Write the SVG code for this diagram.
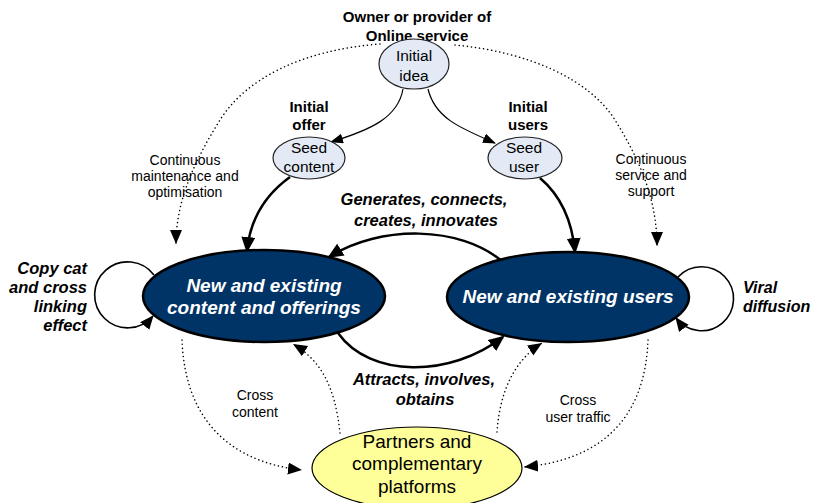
<svg xmlns="http://www.w3.org/2000/svg" width="813" height="503" viewBox="0 0 813 503">
<defs>
<style>
text{font-family:"Liberation Sans",Arial,sans-serif;fill:#000}
.bi{font-weight:bold;font-style:italic;font-size:16.5px}
.vd{font-weight:bold;font-style:italic;font-size:16px}
.b{font-weight:bold;font-size:15px}
.r{font-size:14px}
.sm{font-size:15.5px}
.big{font-weight:bold;font-style:italic;font-size:19px;fill:#fff}
.thick{fill:none;stroke:#000;stroke-width:2.5}
.thin{fill:none;stroke:#000;stroke-width:1.2}
.loop{fill:none;stroke:#000;stroke-width:1.6}
.dot{fill:none;stroke:#000;stroke-width:1.5;stroke-dasharray:0.1 4;stroke-linecap:round}
.seed{fill:#e3eaf6;stroke:#222;stroke-width:1.2}
.main{fill:#003366;stroke:#000;stroke-width:2.5}
</style>
<marker id="aT" markerUnits="userSpaceOnUse" markerWidth="18" markerHeight="16" refX="14" refY="7" orient="auto"><path d="M0,0 L16,7 L0,14 z" fill="#000"/></marker>
<marker id="aS" markerUnits="userSpaceOnUse" markerWidth="16" markerHeight="12" refX="12" refY="5" orient="auto"><path d="M0,0 L13,5 L0,10 z" fill="#000"/></marker>
<marker id="aD" markerUnits="userSpaceOnUse" markerWidth="16" markerHeight="14" refX="14" refY="6" orient="auto"><path d="M0,0 L14,6 L0,12 z" fill="#000"/></marker>
<marker id="aL" markerUnits="userSpaceOnUse" markerWidth="16" markerHeight="14" refX="13" refY="6" orient="auto"><path d="M0,0 L14,6 L0,12 z" fill="#000"/></marker>
</defs>
<rect width="813" height="503" fill="#fff"/>

<g id="connectors">
<path class="dot" d="M380,44 C300,50 245,80 220,120 C195,160 176,200 176,244" marker-end="url(#aD)"/>
<path class="dot" d="M455,45 C530,52 590,80 615,120 C640,160 657,200 657,246" marker-end="url(#aD)"/>
<path class="dot" d="M182,340 C185,420 230,462 302,470" marker-end="url(#aD)"/>
<path class="dot" d="M340,433 C335,385 320,360 293,344" marker-end="url(#aD)"/>
<path class="dot" d="M497,432 C500,390 515,360 542,343" marker-end="url(#aD)"/>
<path class="dot" d="M648,340 C645,420 600,460 524,467" marker-end="url(#aD)"/>
<path class="thin" d="M403,89 C398,118 370,130 331,142" marker-end="url(#aS)"/>
<path class="thin" d="M428,89 C435,118 460,128 495,143" marker-end="url(#aS)"/>
<path class="thick" d="M290,177 C265,195 250,220 247,251" marker-end="url(#aT)"/>
<path class="thick" d="M540,178 C560,195 572,220 575,252" marker-end="url(#aT)"/>
<path class="thick" d="M503,262 C460,225 380,225 329,257" marker-end="url(#aT)"/>
<path class="thick" d="M338,333 C370,378 450,378 503,337" marker-end="url(#aT)"/>
<path class="loop" d="M154,275 A33,33 0 1 0 153,316" marker-end="url(#aL)"/>
<path class="loop" d="M678,277 A32,32 0 1 1 676,318" marker-end="url(#aL)"/>
</g>

<g id="owner">
<text class="b" x="417" y="22" text-anchor="middle">Owner or provider of</text>
<text class="b" x="417" y="41" text-anchor="middle">Online service</text>
</g>

<g id="idea">
<ellipse class="seed" cx="414" cy="64" rx="35" ry="25"/>
<text class="sm" x="414" y="61" text-anchor="middle">Initial</text>
<text class="sm" x="414" y="81" text-anchor="middle">idea</text>
</g>

<g id="seed-content">
<text class="b" x="309" y="112" text-anchor="middle">Initial</text>
<text class="b" x="309" y="130" text-anchor="middle">offer</text>
<ellipse class="seed" cx="309" cy="158" rx="36" ry="21"/>
<text class="sm" x="309" y="153" text-anchor="middle">Seed</text>
<text class="sm" x="309" y="172" text-anchor="middle">content</text>
</g>

<g id="seed-user">
<text class="b" x="528" y="112" text-anchor="middle">Initial</text>
<text class="b" x="528" y="130" text-anchor="middle">users</text>
<ellipse class="seed" cx="525" cy="158" rx="37" ry="21"/>
<text class="sm" x="524" y="153" text-anchor="middle">Seed</text>
<text class="sm" x="524" y="172" text-anchor="middle">user</text>
</g>

<g id="content">
<ellipse class="main" cx="264" cy="296" rx="121" ry="46"/>
<text class="big" x="264" y="292" text-anchor="middle">New and existing</text>
<text class="big" x="264" y="314" text-anchor="middle">content and offerings</text>
</g>

<g id="users">
<ellipse class="main" cx="568" cy="297" rx="121" ry="45"/>
<text class="big" x="568" y="303" text-anchor="middle">New and existing users</text>
</g>

<g id="partners">
<ellipse cx="417" cy="468" rx="105" ry="41" fill="#ffff99" stroke="#000" stroke-width="1.2"/>
<text x="417" y="448" text-anchor="middle" style="font-size:19px">Partners and</text>
<text x="417" y="470" text-anchor="middle" style="font-size:19px">complementary</text>
<text x="417" y="493" text-anchor="middle" style="font-size:19px">platforms</text>
</g>

<g id="labels">
<text class="r" x="185" y="165" text-anchor="middle">Continuous</text>
<text class="r" x="185" y="181" text-anchor="middle">maintenance and</text>
<text class="r" x="185" y="197" text-anchor="middle">optimisation</text>
<text class="r" x="651" y="164" text-anchor="middle">Continuous</text>
<text class="r" x="651" y="180" text-anchor="middle">service and</text>
<text class="r" x="651" y="196" text-anchor="middle">support</text>
<text class="bi" x="424" y="205" text-anchor="middle">Generates, connects,</text>
<text class="bi" x="426" y="226" text-anchor="middle">creates, innovates</text>
<text class="bi" x="424" y="385" text-anchor="middle">Attracts, involves,</text>
<text class="bi" x="425" y="405" text-anchor="middle">obtains</text>
<text class="bi" x="87" y="274" text-anchor="end">Copy cat</text>
<text class="bi" x="87" y="293" text-anchor="end">and cross</text>
<text class="bi" x="87" y="312" text-anchor="end">linking</text>
<text class="bi" x="87" y="331" text-anchor="end">effect</text>
<text class="vd" x="743" y="293">Viral</text>
<text class="vd" x="743" y="312">diffusion</text>
<text class="r" x="255" y="400" text-anchor="middle">Cross</text>
<text class="r" x="255" y="417" text-anchor="middle">content</text>
<text class="r" x="578" y="405" text-anchor="middle">Cross</text>
<text class="r" x="578" y="422" text-anchor="middle">user traffic</text>
</g>
</svg>
